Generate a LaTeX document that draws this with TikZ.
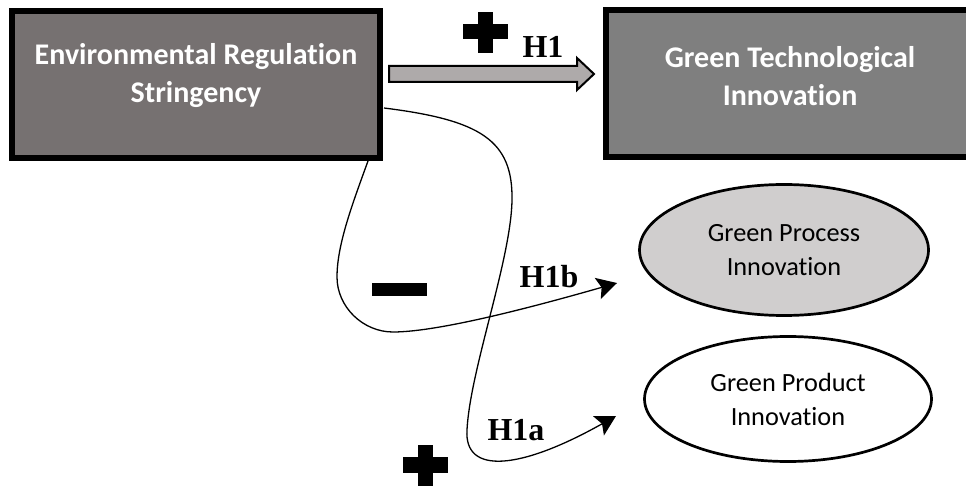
\documentclass[tikz,border=0pt]{standalone}
\usepackage{fontspec}
\setmainfont{Carlito}[Ligatures=NoCommon]
\newfontfamily\tms{Liberation Serif}
\usetikzlibrary{shapes.geometric,arrows.meta}
\definecolor{boxA}{HTML}{767171}
\definecolor{boxB}{HTML}{7F7F7F}
\definecolor{arrowfill}{HTML}{AEAAAA}
\definecolor{ellA}{HTML}{D0CECE}
\tikzset{
  bigbox/.style={draw=black, line width=6pt, rectangle, inner sep=0pt, minimum width=368pt, minimum height=147pt},
  boxtext/.style={text=white, font=\fontsize{30}{38}\selectfont\bfseries, align=center, inner sep=0pt},
  ell/.style={draw=black, line width=2.7pt, ellipse, inner sep=0pt, align=center, font=\fontsize{26.3}{34}\selectfont},
  hlabel/.style={font=\fontsize{32}{34}\selectfont\tms\bfseries, inner sep=0pt},
  conn/.style={line width=1.3pt, -{Stealth[length=20pt,width=22pt,inset=4pt]}},
  sign/.style={fill=black, draw=none}
}
\begin{document}
\begin{tikzpicture}[x=1pt,y=-1pt]
\useasboundingbox (0,0) rectangle (966,486);
\clip (0,0) rectangle (966,486);
% boxes
\node[bigbox, fill=boxA] (L) at (196,84.5) {};
\node[boxtext] (Lt) at (196,76) {Environmental Regulation\\Stringency};
\node[bigbox, fill=boxB] (R) at (790,83.5) {};
\node[boxtext] (Rt) at (790,76) {Green Technological\\Innovation};
% ellipses
\node[ell, fill=ellA, minimum width=289pt, minimum height=131pt] (P) at (784,250) {Green Process\\Innovation};
\node[ell, fill=white, minimum width=287pt, minimum height=125pt] (D) at (788,399) {Green Product\\Innovation};
% block arrow H1
\draw[line width=2pt, fill=arrowfill, line join=miter]
  (389,66) -- (577,66) -- (577,58) -- (594,74) -- (577,90) -- (577,82) -- (389,82) -- cycle;
% signs
\fill[sign] (463,24) rectangle (508,39);
\fill[sign] (478,12) rectangle (493,53);
\fill[sign] (372,283) rectangle (427,296);
\fill[sign] (403,457) rectangle (448,473);
\fill[sign] (418,445) rectangle (433,490);
% labels
\node[hlabel] (h1) at (543,47) {H1};
\node[hlabel] (h1b) at (549,277) {H1b};
\node[hlabel] (h1a) at (516,430) {H1a};
% curved connectors
\coordinate (aS) at (384,108);
\coordinate (aE) at (616,416);
\coordinate (bS) at (368,161);
\coordinate (bE) at (617,283);
\draw[conn] (aS) .. controls (480,120) and (513,140) .. (512,200)
  .. controls (511,260) and (470,370) .. (467,430)
  .. controls (464,475) and (520,470) .. (aE);
\draw[conn] (bS) .. controls (352,205) and (337,245) .. (337,277)
  .. controls (337,307) and (363,332) .. (393,332)
  .. controls (440,332) and (540,305) .. (bE);
\end{tikzpicture}
\end{document}
